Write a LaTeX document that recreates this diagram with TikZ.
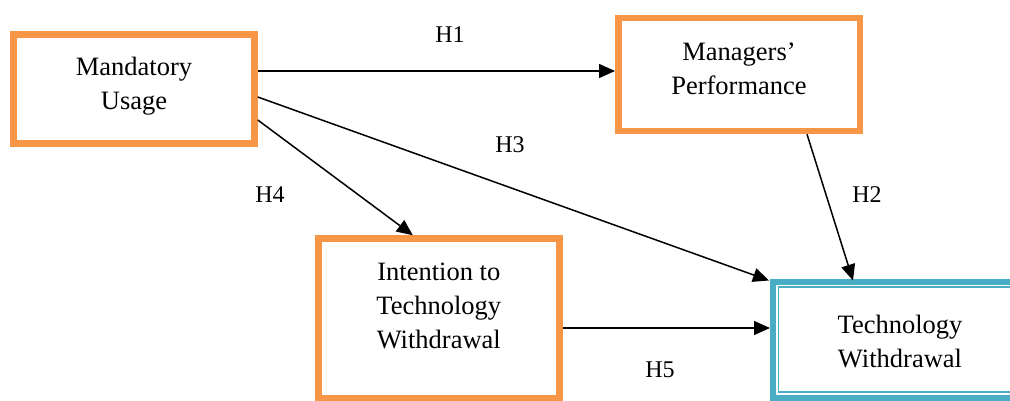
\documentclass[tikz,border=0pt]{standalone}
\usepackage{fontspec}
\setmainfont{Liberation Serif}
\usetikzlibrary{arrows.meta}
\definecolor{boxorange}{HTML}{F79646}
\definecolor{boxblue}{HTML}{4BACC6}
\tikzset{
  construct/.style={draw=boxorange, line width=6.5pt, fill=white, inner sep=0pt},
  outcome/.style={draw=boxblue, line width=6pt, fill=white, inner sep=0pt},
  innerrule/.style={draw=boxblue, line width=1.8pt},
  boxtext/.style={align=center, inner sep=0pt, font=\fontsize{26.5}{34}\selectfont},
  hyp/.style={inner sep=0pt, font=\fontsize{24}{28}\selectfont},
  path/.style={line width=1.5pt, -{Triangle[length=16pt,width=14pt]}}
}
\begin{document}
\begin{tikzpicture}[x=1pt, y=-1pt]
\useasboundingbox (0,0) rectangle (1010,401);
\clip (0,0) rectangle (1010,401);

% construct boxes
\node[construct, minimum width=241pt, minimum height=109pt] (mu) at (134,89) {};
\node[construct, minimum width=241.5pt, minimum height=113pt] (mp) at (739,74.5) {};
\node[construct, minimum width=241pt, minimum height=160pt] (it) at (438.8,318.5) {};
\node[outcome, minimum width=254pt, minimum height=116pt] (tw) at (900,339.5) {};
\draw[innerrule] ([shift={(8.5pt,-8.5pt)}]tw.north west) rectangle ([shift={(-8.5pt,8.5pt)}]tw.south east);

% box captions
\node[boxtext] (mut) at ([yshift=2.5pt]mu.center) {Mandatory\\Usage};
\node[boxtext] (mpt) at ([yshift=5.5pt]mp.center) {Managers’\\Performance};
\node[boxtext] (itt) at ([yshift=13pt]it.center) {Intention to\\Technology\\Withdrawal};
\node[boxtext] (twt) at ([yshift=-2pt]tw.center) {Technology\\Withdrawal};

% hypothesised paths
\coordinate (h1s) at ([yshift=18pt]mu.east);
\coordinate (h3s) at ([yshift=-8pt]mu.east);
\coordinate (h4s) at ([yshift=-31pt]mu.east);
\coordinate (h4e) at ([xshift=-26pt]it.north);
\coordinate (h2s) at ([xshift=68pt]mp.south);
\coordinate (h2e) at ([xshift=-47pt,yshift=-2pt]tw.north);
\coordinate (h3e) at ([xshift=-1pt,yshift=-2pt]tw.north west);
\coordinate (h5s) at ([yshift=-9.5pt]it.east);

\draw[path] (h1s) -- (h1s -| mp.west);
\draw[path] (h3s) -- (h3e);
\draw[path] (h4s) -- (h4e);
\draw[path] (h2s) -- (h2e);
\draw[path] (h5s) -- (h5s -| tw.west);

% path labels
\node[hyp] (l1) at (450,35) {H1};
\node[hyp] (l2) at (867,195) {H2};
\node[hyp] (l3) at (510,145) {H3};
\node[hyp] (l4) at (270,195) {H4};
\node[hyp] (l5) at (660,370) {H5};
\end{tikzpicture}
\end{document}
